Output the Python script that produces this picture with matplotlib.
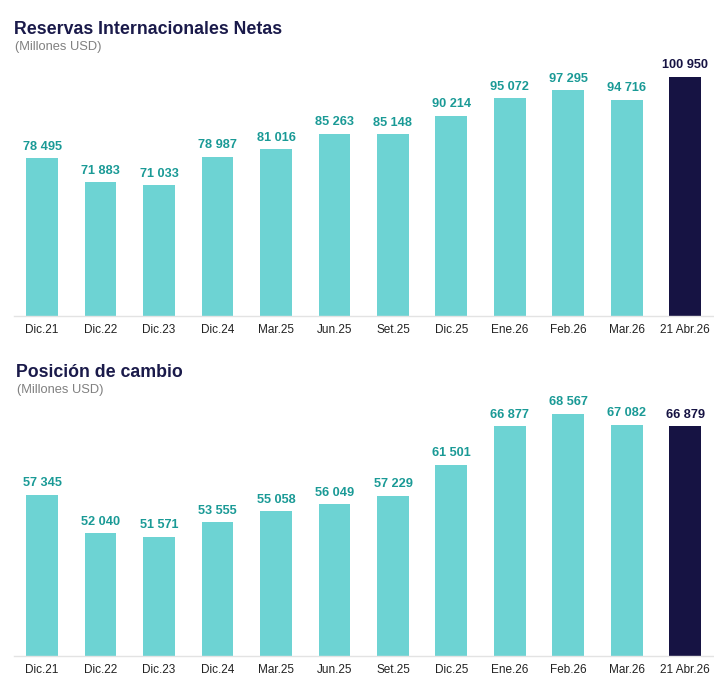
import matplotlib
matplotlib.use("Agg")
import matplotlib.pyplot as plt

categories = ["Dic.21", "Dic.22", "Dic.23", "Dic.24", "Mar.25", "Jun.25", "Set.25",
              "Dic.25", "Ene.26", "Feb.26", "Mar.26", "21 Abr.26"]
rin_values = [78495, 71883, 71033, 78987, 81016, 85263, 85148, 90214, 95072, 97295, 94716, 100950]
pc_values = [57345, 52040, 51571, 53555, 55058, 56049, 57229, 61501, 66877, 68567, 67082, 66879]
titles = ["Reservas Internacionales Netas", "Posición de cambio"]
subtitle = "(Millones USD)"

plt.rcParams['font.family'] = ['Liberation Sans', 'DejaVu Sans']

TEAL = "#6dd3d3"
NAVY = "#161343"
TEAL_TXT = "#1a9a96"
GRID = "#e3e3e3"

fig = plt.figure(figsize=(7.14, 6.93), dpi=100)
W, H = 714, 693

def add_panel(values, title, top_px, bot_px, ylim, title_x, title_y, sub_y):
    ax = fig.add_axes([14 / W, 1 - bot_px / H, (714 - 14) / W, (bot_px - top_px) / H])
    x = list(range(len(categories)))
    colors = [TEAL] * (len(values) - 1) + [NAVY]
    ax.bar(x, values, width=0.545, color=colors, zorder=2)
    ax.set_ylim(*ylim)
    ax.set_xlim(-0.48, 11.49)
    for i, v in enumerate(values):
        c = NAVY if i == len(values) - 1 else TEAL_TXT
        ax.annotate(f"{v:,}".replace(",", " "), (i, v), xytext=(0, 4), textcoords="offset points",
                    ha="center", va="bottom", fontsize=9.2, fontweight="bold", color=c)
    ax.set_xticks(x)
    ax.set_xticklabels(categories, fontsize=8.5, color="#222222")
    ax.tick_params(axis="x", length=0, pad=6)
    ax.set_yticks([])
    for s in ["top", "right", "left"]:
        ax.spines[s].set_visible(False)
    ax.spines["bottom"].set_color(GRID)
    ax.spines["bottom"].set_linewidth(1)
    fig.text(title_x / W, 1 - title_y / H, title, fontsize=12.8, fontweight="bold",
             color="#1a1a4a", va="center", ha="left")
    fig.text((title_x + 1) / W, 1 - sub_y / H, subtitle, fontsize=9.3, color="#808080",
             va="center", ha="left")
    return ax

add_panel(rin_values, titles[0], 69.5, 316, (35000, 103000), 14, 30, 47)
add_panel(pc_values, titles[1], 395, 656, (35000, 71200), 16, 373, 390)

fig.savefig("out.png", dpi=100, facecolor="white")
